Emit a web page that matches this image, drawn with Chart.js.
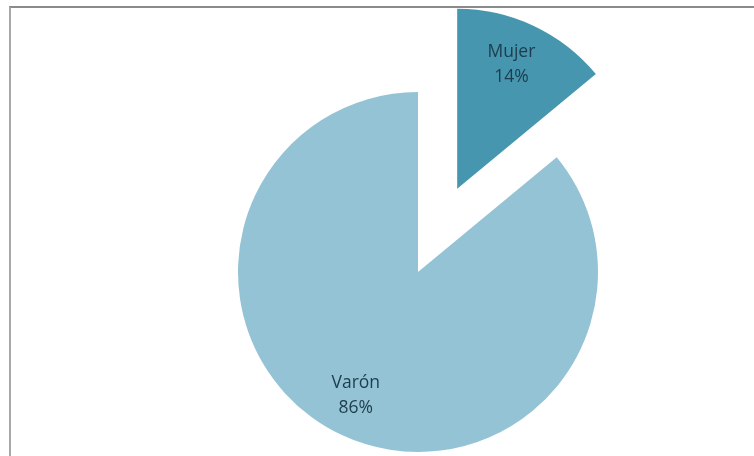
<!DOCTYPE html>
<html>
<head>
<meta charset="utf-8">
<script src="https://cdn.jsdelivr.net/npm/chart.js@4"></script>
<style>
  html, body { margin: 0; padding: 0; background: #fff; overflow: hidden; }
  #wrap { position: relative; width: 754px; height: 456px; }
  #frame {
    position: absolute; left: 9px; top: 6px; width: 800px; height: 500px;
    border-top: 2px solid #8a8a8a; border-left: 2px solid #a8a8a8;
  }
  canvas { position: absolute; left: 0; top: 0; }
</style>
</head>
<body>
<div id="wrap">
  <div id="frame"></div>
  <canvas id="pieChart" width="754" height="456"></canvas>
</div>
<script>
const labels = ["Mujer", "Varón"];
const values = [14, 86];
const percentLabels = ["14%", "86%"];
const colors = ["#4596ae", "#94c3d5"];

// chart.js moves an arc by offset/4 but also grows its radius and trims its
// angle a little; undo both so the exploded slice keeps its real shape
const keepRadius = {
    id: "keepRadius",
    afterDatasetUpdate(chart, args) {
        const meta = chart.getDatasetMeta(args.index);
        meta.data.forEach((arc) => {
            const off = (arc.options.offset || 0) / 4;
            if (!off) return;
            const fix = 1 - Math.sin(Math.min(Math.PI, arc.circumference));
            const ro = off * fix;
            const r0 = arc.outerRadius;
            const trim = ro / (2 * Math.PI * r0);
            arc.outerRadius = r0 - ro;
            arc.startAngle -= trim;
            arc.endAngle += trim;
        });
    },
};

// draws "name / pct" inside each slice, like the spreadsheet data labels
const sliceLabels = {
    id: "sliceLabels",
    afterDatasetsDraw(chart) {
        const ctx = chart.ctx;
        const arcs = chart.getDatasetMeta(0).data;
        ctx.save();
        ctx.font = "17.5px 'Open Sans'";
        ctx.fillStyle = "#1c3d4d";
        ctx.textAlign = "center";
        ctx.textBaseline = "middle";
        arcs.forEach((arc, i) => {
            const mid = (arc.startAngle + arc.endAngle) / 2;
            const shift = (arc.options.offset || 0) / 4;
            const r = 180 * 0.76 + shift;
            const x = arc.x + Math.cos(mid) * r - 4;
            const y = arc.y + Math.sin(mid) * r;
            ctx.fillText(labels[i], x, y - 12.5);
            ctx.fillText(percentLabels[i], x, y + 12.5);
        });
        ctx.restore();
    },
};

new Chart(document.getElementById("pieChart"), {
    type: "pie",
    data: {
        labels: labels,
        datasets: [
            {
                data: values,
                backgroundColor: colors,
                borderWidth: 0,
                offset: [368, 0],
                radius: 180,
            },
        ],
    },
    options: {
        responsive: false,
        animation: false,
        devicePixelRatio: 1,
        cutout: "0%",
        layout: {
            padding: { left: 82, top: 88, right: 0, bottom: 0 },
        },
        plugins: {
            legend: { display: false },
            tooltip: { enabled: false },
        },
    },
    plugins: [keepRadius, sliceLabels],
});
</script>
</body>
</html>
